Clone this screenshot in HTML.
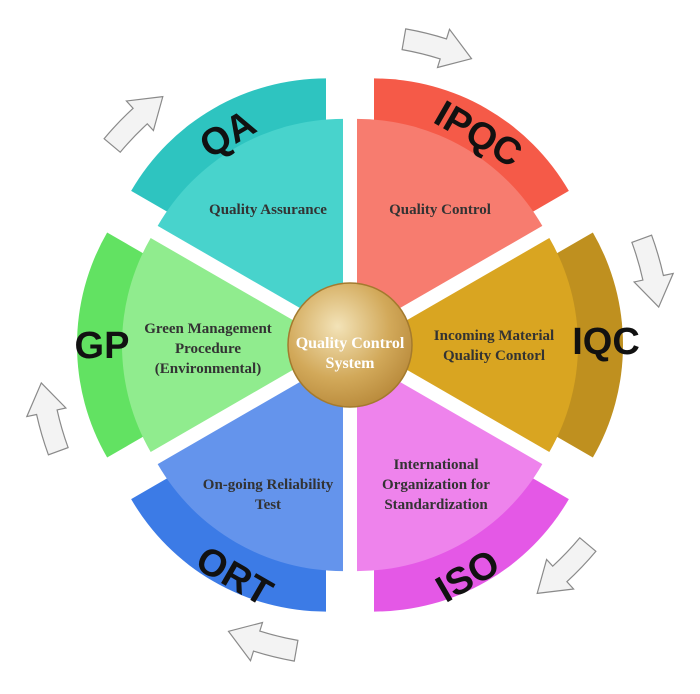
<!DOCTYPE html>
<html><head><style>
html,body{margin:0;padding:0;background:#fff;width:700px;height:694px;overflow:hidden}
svg{display:block}
.o{font-family:"Liberation Sans",sans-serif;font-weight:bold;font-size:38px;fill:#111}
.i{font-family:"Liberation Serif",serif;font-weight:bold;font-size:15px;fill:#333}
</style></head><body>
<svg id="s" width="700" height="694" viewBox="0 0 700 694" xmlns="http://www.w3.org/2000/svg">
<defs>
<radialGradient id="g" cx="0.4" cy="0.35" r="0.7">
<stop offset="0" stop-color="#f3e3b8"/><stop offset="0.6" stop-color="#d2a95a"/><stop offset="1" stop-color="#b8893a"/>
</radialGradient>
</defs>
<g id="dark"></g><g id="light"></g><g id="arr"></g>
<circle cx="350" cy="345" r="62" fill="url(#g)" stroke="#a47a2e" stroke-width="1.5"/>
<text x="350" y="348" text-anchor="middle" style="font-family:'Liberation Serif',serif;font-weight:bold;font-size:16px;fill:#fff">Quality Control</text>
<text x="350" y="368" text-anchor="middle" style="font-family:'Liberation Serif',serif;font-weight:bold;font-size:16px;fill:#fff">System</text>

<text class="i" x="268" y="214" text-anchor="middle">Quality Assurance</text>
<text class="i" x="440" y="214" text-anchor="middle">Quality Control</text>
<text class="i" x="494" y="340" text-anchor="middle">Incoming Material</text>
<text class="i" x="494" y="360" text-anchor="middle">Quality Contorl</text>
<text class="i" x="436" y="469" text-anchor="middle">International</text>
<text class="i" x="436" y="489" text-anchor="middle">Organization for</text>
<text class="i" x="436" y="509" text-anchor="middle">Standardization</text>
<text class="i" x="268" y="489" text-anchor="middle">On-going Reliability</text>
<text class="i" x="268" y="509" text-anchor="middle">Test</text>
<text class="i" x="208" y="333" text-anchor="middle">Green Management</text>
<text class="i" x="208" y="353" text-anchor="middle">Procedure</text>
<text class="i" x="208" y="373" text-anchor="middle">(Environmental)</text>

<text class="o" text-anchor="middle" transform="translate(234,145) rotate(-30)">QA</text>
<text class="o" text-anchor="middle" transform="translate(472,145) rotate(30)">IPQC</text>
<text class="o" text-anchor="middle" transform="translate(606,354)">IQC</text>
<text class="o" text-anchor="middle" transform="translate(474,587) rotate(-30)">ISO</text>
<text class="o" text-anchor="middle" transform="translate(228,587) rotate(30)">ORT</text>
<text class="o" text-anchor="middle" transform="translate(102,358)">GP</text>
</svg>
<script>
var cx=350,cy=345,R=Math.PI/180;
function wedge(d,rad,mid,col){
 var ax=cx+d*Math.cos(mid*R),ay=cy+d*Math.sin(mid*R);
 var a1=(mid-30)*R,a2=(mid+30)*R;
 var x1=ax+rad*Math.cos(a1),y1=ay+rad*Math.sin(a1),x2=ax+rad*Math.cos(a2),y2=ay+rad*Math.sin(a2);
 return '<path fill="'+col+'" d="M'+ax+' '+ay+' L'+x1+' '+y1+' A'+rad+' '+rad+' 0 0 1 '+x2+' '+y2+' Z"/>';
}
var secs=[[-120,'#2ec4c0','#48d3cc'],[-60,'#f55a48','#f77c6f'],[0,'#bf901f','#d9a521'],[60,'#e458e6','#ee83ec'],[120,'#3c7be6','#6494ec'],[180,'#62e262','#90ec8e']];
var dk='',lt='';
secs.forEach(function(s){dk+=wedge(48,225,s[0],s[1]);lt+=wedge(14,214,s[0],s[2]);});
document.getElementById('dark').innerHTML=dk;
document.getElementById('light').innerHTML=lt;
function P(r,a){return (cx+r*Math.cos(a*R)).toFixed(1)+' '+(cy+r*Math.sin(a*R)).toFixed(1);}
var ar='';
for(var k=0;k<6;k++){
 var a=-75+60*k;
 var t0=a-5,t1=a+2.5,tip=a+8;
 var d='M'+P(300,t0)+' A300 300 0 0 1 '+P(300,t1)+' L'+P(291,t1)+' L'+P(311,tip)+' L'+P(331,t1)+' L'+P(321,t1)+' A321 321 0 0 0 '+P(321,t0)+' Z';
 ar+='<path d="'+d+'" fill="#f3f3f3" stroke="#8a8a8a" stroke-width="1.2"/>';
}
document.getElementById('arr').innerHTML=ar;
</script>
</body></html>
